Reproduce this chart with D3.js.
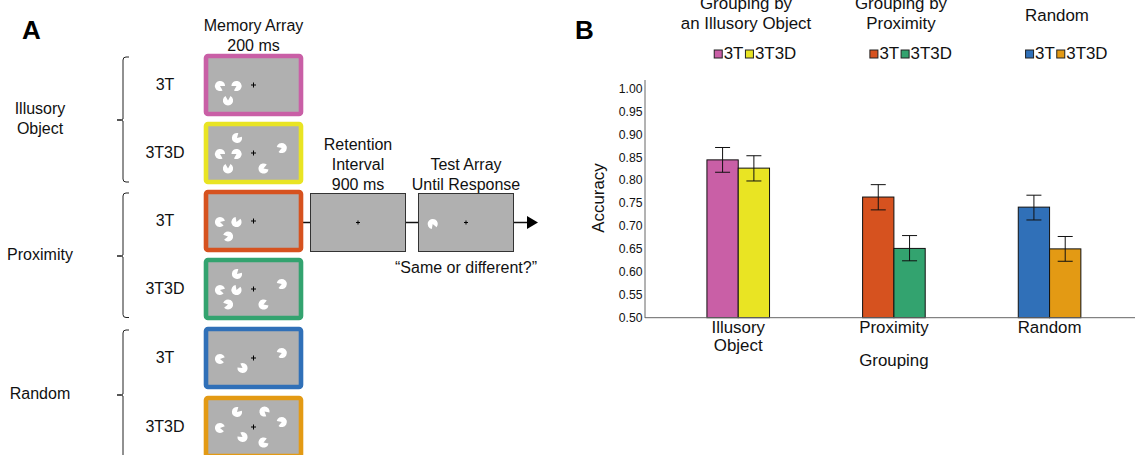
<!DOCTYPE html>
<html><head><meta charset="utf-8">
<script src="https://cdn.jsdelivr.net/npm/d3@7"></script>
<style>html,body{margin:0;padding:0;background:#fff}svg{display:block}text{font-family:"Liberation Sans",Arial,sans-serif;fill:#111}</style>
</head><body><svg id="c" width="1135" height="455"></svg>
<script>
// ---- Panel B data
const groups = ["Illusory Object", "Proximity", "Random"];
const conditions = ["3T", "3T3D"];
const accuracy3T = [0.844, 0.763, 0.741];
const accuracy3T3D = [0.826, 0.651, 0.650];
const upper3T = [0.871, 0.790, 0.767];
const lower3T = [0.817, 0.735, 0.713];
const upper3T3D = [0.853, 0.679, 0.677];
const lower3T3D = [0.798, 0.624, 0.623];
const colors3T = ["#c95fa6", "#d6521f", "#3070b8"];
const colors3T3D = ["#e9e423", "#33a36f", "#e39a14"];
const yTicks = [0.50, 0.55, 0.60, 0.65, 0.70, 0.75, 0.80, 0.85, 0.90, 0.95, 1.00];

// ---- Panel A data: pacman inducers [x, y, notch direction in degrees], stimulus units relative to fixation
const stim3TIllusory = [[-33.5,1,30],[-17,1,150],[-25.5,15.5,270]];
const stim3T3DIllusory = [[-33.5,1,30],[-17,1,150],[-25.5,15.5,270],[-16.5,-15,315],[28.3,-5,160],[10,15.5,340]];
const stim3TProximity = [[-33.5,1,15],[-17,1,290],[-25.5,15.5,170]];
const stim3T3DProximity = [[-33.5,1,15],[-17,1,290],[-25.5,15.5,170],[-16.5,-15,315],[28.3,-5,160],[10,15.5,340]];
const stim3TRandom = [[-33.5,1,10],[-11,10,215],[28.3,-5,160]];
const stim3T3DRandom = [[-33.5,1,10],[-11,10,215],[28.3,-5,160],[-16.5,-15,315],[11,-15.5,40],[10,15.5,340]];
const memoryStimuli = [stim3TIllusory, stim3T3DIllusory, stim3TProximity, stim3T3DProximity, stim3TRandom, stim3T3DRandom];
const frameLabels = ["3T", "3T3D", "3T", "3T3D", "3T", "3T3D"];
const frameColors = ["#c95fa6", "#e9e423", "#d6521f", "#33a36f", "#3070b8", "#e39a14"];
const frameRows = [0, 1, 2, 3, 4, 5];
const testProbe = [[-33.3, 1.5, 70]];

const svg = d3.select("#c");
const GRAY = "#b0b0b0";

// ---- Panel labels
svg.append("text").attr("x",22).attr("y",39).attr("font-size",26).attr("font-weight","bold").style("fill","#000").text("A");
svg.append("text").attr("x",575).attr("y",39).attr("font-size",26).attr("font-weight","bold").style("fill","#000").text("B");

// ---- Panel A
const rowY = d3.scaleLinear().domain([0,3,5]).range([85,289,427]);
const stimX = d3.scaleLinear().domain([0,1]).range([0,1]);
const pac = d3.arc().innerRadius(0).outerRadius(5.1);
const deg = Math.PI/180;
function drawPacs(g, list){
  g.selectAll("path.pac").data(list).join("path").attr("class","pac")
    .attr("transform", d=>`translate(${stimX(d[0])},${stimX(d[1])})`)
    .attr("fill","#fff")
    .attr("d", d=>{
      // d3.arc angles: 0 = up, clockwise. Notch centred on direction d[2] (0 = right, clockwise)
      const c = (d[2]+90)*deg, half = 30*deg;
      return pac({startAngle:c+half,endAngle:c+2*Math.PI-half});
    });
}
function cross(g, s, w){
  g.append("path").attr("d",`M${-s},0H${s}M0,${-s}V${s}`).attr("stroke","#000").attr("stroke-width",w).attr("fill","none");
}
// connector lines behind the frames
const ly = 222.5;
svg.append("line").attr("x1",300).attr("x2",311).attr("y1",ly).attr("y2",ly).attr("stroke","#111").attr("stroke-width",1.5);
svg.append("line").attr("x1",405).attr("x2",419).attr("y1",ly).attr("y2",ly).attr("stroke","#111").attr("stroke-width",1.5);
svg.append("line").attr("x1",513).attr("x2",528).attr("y1",ly).attr("y2",ly).attr("stroke","#111").attr("stroke-width",1.5);
svg.append("path").attr("d",`M527,${ly-6.5}L538,${ly}L527,${ly+6.5}Z`).attr("fill","#000");

const frames = svg.selectAll("g.frame").data(frameRows).join("g").attr("class","frame")
  .attr("transform", i=>`translate(253.5,${rowY(i)})`);
frames.append("rect").attr("x",-47.5).attr("y",-29).attr("width",95).attr("height",58).attr("rx",2)
  .attr("fill",GRAY).attr("stroke",i=>frameColors[i]).attr("stroke-width",4.6);
frames.each(function(i){ const g=d3.select(this); drawPacs(g, memoryStimuli[i]); cross(g,2.5,1); });
svg.selectAll("text.flabel").data(frameRows).join("text").attr("class","flabel")
  .attr("x",165).attr("y",i=>rowY(i)+4.7).attr("text-anchor","middle").attr("font-size",16).text(i=>frameLabels[i]);

// retention + test boxes
[[358,[]],[466,testProbe]].forEach(([cx,list])=>{
  const g = svg.append("g").attr("transform",`translate(${cx},${ly})`);
  g.append("rect").attr("x",-47.5).attr("y",-29).attr("width",95).attr("height",58).attr("fill",GRAY).attr("stroke","#333").attr("stroke-width",1);
  drawPacs(g,list); cross(g,2,1);
});

// brackets
function bracket(y0,y1,ym){
  svg.append("path").attr("fill","none").attr("stroke","#222").attr("stroke-width",1)
    .attr("d",`M129,${y0}H126Q123,${y0} 123,${y0+3}V${ym-1}Q123,${ym} 117,${ym}Q123,${ym} 123,${ym+1}V${y1-3}Q123,${y1} 126,${y1}H129`);
}
bracket(57,182,120); bracket(193,317.5,256); bracket(330,470,395);

function label(x,y,t,size){
  return svg.append("text").attr("x",x).attr("y",y).attr("text-anchor","middle").attr("font-size",size||16).text(t);
}
label(253.5,31,"Memory Array"); label(253.5,51,"200 ms");
label(40,114,"Illusory"); label(40,134,"Object");
label(40,260,"Proximity"); label(40,399,"Random");
label(358,150,"Retention"); label(358,170,"Interval"); label(358,190,"900 ms");
label(466,170,"Test Array"); label(466,190,"Until Response");
label(466,273,"“Same or different?”");

// ---- Panel B
const y = d3.scaleLinear().domain([0.5,1]).range([317.7,88.3]);
const x0 = d3.scaleBand().domain(groups).range([660.4,1127.4]).paddingInner(0);
const barW = 31.3;
const gCenter = g => x0(g)+x0.bandwidth()/2;
const bars = [];
groups.forEach((g,i)=>{
  bars.push({g,k:0,v:accuracy3T[i],u:upper3T[i],l:lower3T[i],c:colors3T[i]});
  bars.push({g,k:1,v:accuracy3T3D[i],u:upper3T3D[i],l:lower3T3D[i],c:colors3T3D[i]});
});
const barG = svg.append("g");
barG.selectAll("rect").data(bars).join("rect")
  .attr("x",d=>gCenter(d.g)+(d.k-1)*barW).attr("width",barW)
  .attr("y",d=>y(d.v)).attr("height",d=>y(0.5)-y(d.v))
  .attr("fill",d=>d.c).attr("stroke","#111").attr("stroke-width",1);
const err = barG.selectAll("g.err").data(bars).join("g").attr("class","err")
  .attr("transform",d=>`translate(${gCenter(d.g)+(d.k-0.5)*barW},0)`);
err.append("path").attr("fill","none").attr("stroke","#111").attr("stroke-width",1)
  .attr("d",d=>`M-7.5,${y(d.u)}H7.5M0,${y(d.u)}V${y(d.l)}M-7.5,${y(d.l)}H7.5`);

const yAxis = d3.axisLeft(y).tickValues(yTicks).tickFormat(d3.format(".2f")).tickSize(0).tickPadding(2.5);
const ya = svg.append("g").attr("transform","translate(645,0)").call(yAxis);
ya.select(".domain").remove();
ya.selectAll("text").attr("font-size",12.2).style("font-family",'"Liberation Sans",Arial,sans-serif').style("fill","#111");
svg.append("line").attr("x1",645).attr("x2",645).attr("y1",80).attr("y2",318).attr("stroke","#666").attr("stroke-width",1);
svg.append("line").attr("x1",645).attr("x2",1135).attr("y1",317.7).attr("y2",317.7).attr("stroke","#666").attr("stroke-width",1);

const F = 16.9;
svg.append("text").attr("transform","translate(603.5,198) rotate(-90)").attr("text-anchor","middle").attr("font-size",F).text("Accuracy");
label(gCenter(groups[0]),333,"Illusory",F); label(gCenter(groups[0]),351,"Object",F);
label(gCenter(groups[1]),333,"Proximity",F); label(gCenter(groups[2]),333,"Random",F);
label(gCenter(groups[1]),366,"Grouping",F);

// header + legends
label(746,8.5,"Grouping by",F); label(746,28.5,"an Illusory Object",F);
label(901,8.5,"Grouping by",F); label(901,28.5,"Proximity",F);
label(1057,21,"Random",F);
groups.forEach((g,i)=>{
  const cx = gCenter(g)+7.5;
  [colors3T[i],colors3T3D[i]].forEach((c,k)=>{
    const sx = cx-31.5+k*31.2;
    svg.append("rect").attr("x",sx).attr("y",50).attr("width",8).attr("height",8).attr("fill",c).attr("stroke","#222").attr("stroke-width",1);
    svg.append("text").attr("x",sx+9.5).attr("y",59).attr("font-size",F).text(conditions[k]);
  });
});
</script></body></html>
